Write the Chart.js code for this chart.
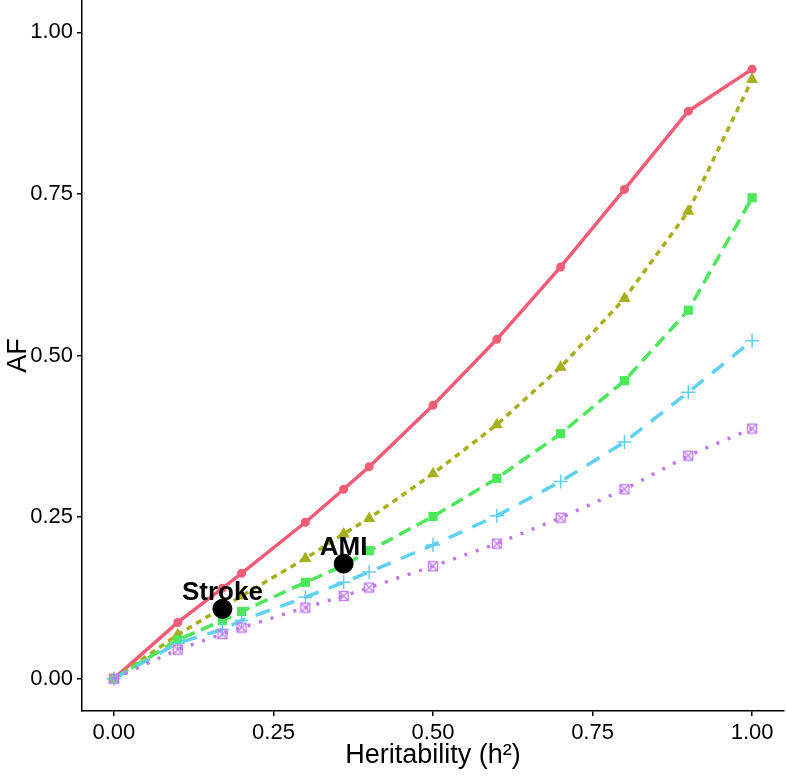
<!DOCTYPE html>
<html>
<head>
<meta charset="utf-8">
<script src="https://cdn.jsdelivr.net/npm/chart.js@4.4.1/dist/chart.umd.min.js"></script>
<style>
  html, body { margin: 0; padding: 0; background: #fff; }
  #wrap { width: 786px; height: 779px; }
</style>
</head>
<body>
<div id="wrap"><canvas id="chartAF" width="786" height="779"></canvas></div>
<script>
// heritability grid (x) and attributable fraction per scenario (y)
const h2Values = [0, 0.1, 0.17, 0.2, 0.3, 0.36, 0.4, 0.5, 0.6, 0.7, 0.8, 0.9, 1.0];
const afSeries1 = [0, 0.087, 0.140, 0.163, 0.242, 0.293, 0.328, 0.423, 0.525, 0.637, 0.757, 0.878, 0.943];
const afSeries2 = [0, 0.068, 0.110, 0.128, 0.186, 0.224, 0.248, 0.317, 0.393, 0.482, 0.588, 0.723, 0.927];
const afSeries3 = [0, 0.060, 0.090, 0.104, 0.149, 0.175, 0.198, 0.251, 0.310, 0.379, 0.461, 0.570, 0.744];
const afSeries4 = [0, 0.055, 0.076, 0.090, 0.126, 0.149, 0.165, 0.207, 0.252, 0.305, 0.366, 0.443, 0.523];
const afSeries5 = [0, 0.045, 0.069, 0.079, 0.110, 0.128, 0.141, 0.174, 0.209, 0.249, 0.293, 0.345, 0.387];

// observed diseases
const diseaseNames = ['Stroke', 'AMI'];
const diseaseH2 = [0.17, 0.36];
const diseaseAF = [0.108, 0.178];

const tickValues = [0, 0.25, 0.5, 0.75, 1.0];

function toPoints(xs, ys) {
    return xs.map((x, i) => ({ x: x, y: ys[i] }));
}

// square-with-cross marker (like ggplot shape 7)
function boxCrossMarker(color) {
    const c = document.createElement('canvas');
    c.width = 12; c.height = 12;
    const g = c.getContext('2d');
    g.strokeStyle = color;
    g.lineWidth = 1.4;
    g.strokeRect(1.5, 1.5, 9, 9);
    g.beginPath();
    g.moveTo(1.5, 1.5); g.lineTo(10.5, 10.5);
    g.moveTo(10.5, 1.5); g.lineTo(1.5, 10.5);
    g.stroke();
    return c;
}

// draws the disease names above the black points
const diseaseLabels = {
    id: 'diseaseLabels',
    afterDatasetsDraw(chart) {
        const meta = chart.getDatasetMeta(0);
        const ctx = chart.ctx;
        ctx.save();
        ctx.font = 'bold 26px "Liberation Sans", Arial, sans-serif';
        ctx.fillStyle = '#000';
        ctx.textAlign = 'center';
        ctx.textBaseline = 'alphabetic';
        meta.data.forEach((pt, i) => {
            ctx.fillText(diseaseNames[i], pt.x, pt.y - 9);
        });
        ctx.restore();
    }
};

const tickFont = { family: '"Liberation Sans", Arial, sans-serif', size: 22 };

function fixedTicks(scale) {
    scale.ticks = tickValues.map(v => ({ value: v }));
}

new Chart(document.getElementById('chartAF'), {
    type: 'scatter',
    data: {
        datasets: [
            {
                label: 'observed',
                data: toPoints(diseaseH2, diseaseAF),
                backgroundColor: '#000',
                borderColor: '#000',
                pointRadius: 9.5,
                showLine: false,
                order: 0
            },
            {
                label: 'scenario 1',
                data: toPoints(h2Values, afSeries1),
                showLine: true,
                borderColor: '#f25c77',
                backgroundColor: '#f25c77',
                borderWidth: 3.5,
                pointStyle: 'circle',
                pointRadius: 4.5,
                pointBorderWidth: 0,
                order: 5
            },
            {
                label: 'scenario 2',
                data: toPoints(h2Values, afSeries2),
                showLine: true,
                borderColor: '#a6b01c',
                backgroundColor: '#a6b01c',
                borderWidth: 3.5,
                borderDash: [6, 5],
                pointStyle: 'triangle',
                pointRadius: 7,
                pointBorderWidth: 0,
                order: 4
            },
            {
                label: 'scenario 3',
                data: toPoints(h2Values, afSeries3),
                showLine: true,
                borderColor: '#4ce85a',
                backgroundColor: '#4ce85a',
                borderWidth: 3.5,
                borderDash: [13, 7],
                pointStyle: 'rect',
                pointRadius: 6.5,
                pointBorderWidth: 0,
                order: 3
            },
            {
                label: 'scenario 4',
                data: toPoints(h2Values, afSeries4),
                showLine: true,
                borderColor: '#5ed0f2',
                backgroundColor: '#5ed0f2',
                borderWidth: 3.5,
                borderDash: [15, 11],
                pointStyle: 'cross',
                pointRadius: 7,
                pointBorderWidth: 1.5,
                order: 2
            },
            {
                label: 'scenario 5',
                data: toPoints(h2Values, afSeries5),
                showLine: true,
                borderColor: '#bf78f0',
                backgroundColor: '#bf78f0',
                borderWidth: 3.5,
                borderDash: [3, 9],
                pointStyle: boxCrossMarker('#c47ef2'),
                order: 1
            }
        ]
    },
    options: {
        responsive: false,
        animation: false,
        layout: { padding: 0, autoPadding: false },
        plugins: {
            legend: { display: false },
            tooltip: { enabled: false }
        },
        scales: {
            x: {
                type: 'linear',
                min: -0.05,
                max: 1.05,
                afterBuildTicks: fixedTicks,
                afterFit: function (scale) {
                    scale.height = 68;
                    scale.paddingLeft = 0;
                    scale.paddingRight = 2;
                },
                border: { display: true, color: '#000', width: 1.5 },
                grid: { drawOnChartArea: false, drawTicks: true, tickLength: 5, color: '#000', lineWidth: 1.5 },
                ticks: {
                    color: '#000',
                    font: tickFont,
                    padding: 4,
                    maxRotation: 0,
                    callback: v => v.toFixed(2)
                },
                title: {
                    display: true,
                    text: 'Heritability (h\u00B2)',
                    color: '#000',
                    font: { family: '"Liberation Sans", Arial, sans-serif', size: 27 },
                    padding: { top: 0, bottom: 7 }
                }
            },
            y: {
                type: 'linear',
                min: -0.05,
                max: 1.05,
                afterBuildTicks: fixedTicks,
                afterFit: function (scale) {
                    scale.width = 82;
                    scale.paddingTop = 0;
                    scale.paddingBottom = 0;
                },
                border: { display: true, color: '#000', width: 1.5 },
                grid: { drawOnChartArea: false, drawTicks: true, tickLength: 5, color: '#000', lineWidth: 1.5 },
                ticks: {
                    color: '#000',
                    font: tickFont,
                    padding: 4,
                    callback: v => v.toFixed(2)
                },
                title: {
                    display: true,
                    text: 'AF',
                    color: '#000',
                    font: { family: '"Liberation Sans", Arial, sans-serif', size: 27 },
                    padding: { top: 2, bottom: 0 }
                }
            }
        }
    },
    plugins: [diseaseLabels]
});
</script>
</body>
</html>
